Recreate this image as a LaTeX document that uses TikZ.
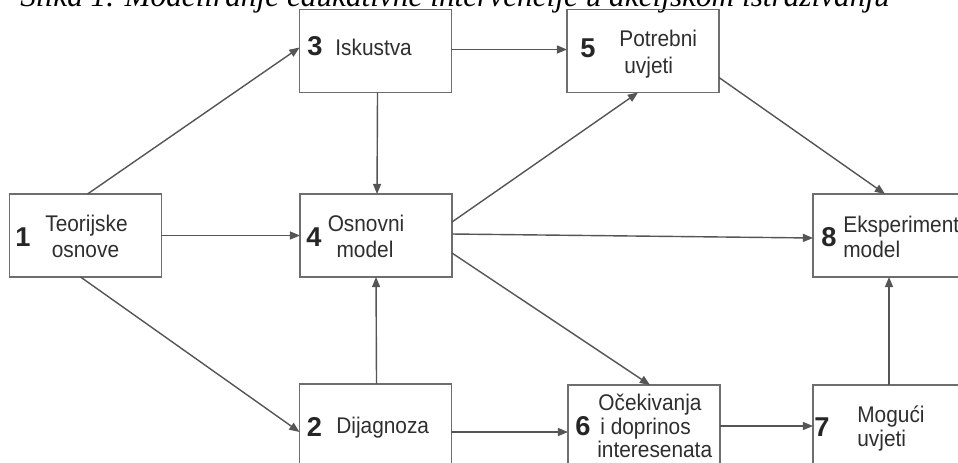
\documentclass[tikz,border=0pt]{standalone}
\usepackage{fontspec}
\setmainfont{Liberation Sans}
\newfontfamily\capfont{Liberation Serif}
\newfontfamily\lblfont[FakeStretch=0.92]{Liberation Sans}
\usetikzlibrary{calc,arrows.meta}
\definecolor{boxgray}{HTML}{6E6E6E}
\definecolor{linegray}{HTML}{555555}
\begin{document}
\begin{tikzpicture}[x=0.02cm,y=-0.02cm,
  stage/.style={draw=boxgray,line width=1.1pt,rectangle,inner sep=0pt,outer sep=0pt,
    minimum width=3.04cm,minimum height=1.66cm},
  num/.style={font=\fontsize{15.5}{17}\selectfont\bfseries,text=black!85,inner sep=0pt},
  lbl/.style={font=\lblfont\fontsize{12.9}{14.7}\selectfont,text=black!82,inner sep=0pt,anchor=base},
  lblw/.style={lbl,anchor=base west},
  link/.style={draw=linegray,line width=0.8pt,
    -{Triangle[length=5.8pt,width=4.6pt]}}]
\useasboundingbox (0,0) rectangle (958,463);
\clip (0,0) rectangle (958,463);
% caption line, only its lower part is on the page
\node[anchor=base west,inner sep=0pt,font=\capfont\itshape\fontsize{17.8}{20}\selectfont] (cap) at (20,7)
  {Slika 1. Modeliranje edukativne intervencije u akcijskom istraživanju};
% stages
\node[stage] (b1) at (85.5,235.5) {};
\node[stage] (b3) at (375.5,51) {};
\node[stage] (b4) at (376,235.5) {};
\node[stage] (b5) at (643,51) {};
\node[stage] (b8) at (889,235.5) {};
\node[stage] (b2) at (375.5,425.5) {};
\node[stage] (b6) at (644,426.5) {};
\node[stage] (b7) at (889,426.5) {};
% numbers
\node[num] (n1) at (23,237) {1};
\node[num] (n3) at (315,46) {3};
\node[num] (n4) at (314,237) {4};
\node[num] (n5) at (588,48.5) {5};
\node[num] (n2) at (314.5,427) {2};
\node[num] (n6) at (583,426) {6};
\node[num] (n7) at (822,427) {7};
\node[num] (n8) at (829,237) {8};
% labels, one node per line
\node[lbl] (t1a) at (86.5,231) {Teorijske};
\node[lbl] (t1b) at (85.5,257) {osnove};
\node[lblw] (t3) at (335,55) {Iskustva};
\node[lbl] (t4a) at (366,231) {Osnovni};
\node[lbl] (t4b) at (365,257) {model};
\node[lblw] (t5a) at (619,47) {Potrebni};
\node[lblw] (t5b) at (624,73) {uvjeti};
\node[lblw] (t2) at (336,433) {Dijagnoza};
\node[lblw] (t6a) at (598,410) {Očekivanja};
\node[lblw] (t6b) at (600,434) {i doprinos};
\node[lblw] (t6c) at (597,457.5) {interesenata};
\node[lblw] (t7a) at (857,422) {Mogući};
\node[lblw] (t7b) at (857,446) {uvjeti};
\node[lblw] (t8a) at (843,232) {Eksperiment};
\node[lblw] (t8b) at (843,257) {model};
% connectors
\draw[link] ($(b1.north west)+(78,0)$) -- ($(b3.north west)+(0,38)$);
\draw[link] ($(b1.south west)+(71,0)$) -- ($(b2.north west)+(0,48)$);
\draw[link] (b1.east) -- (b4.west);
\draw[link] ($(b3.south west)+(78,0)$) -- ($(b4.north west)+(77,0)$);
\draw[link] ($(b3.north east)+(0,40)$) -- ($(b5.north west)+(0,40)$);
\draw[link] ($(b2.north west)+(77,0)$) -- ($(b4.south west)+(76,0)$);
\draw[link] ($(b4.north east)+(0,28)$) -- ($(b5.south west)+(71,0)$);
\draw[link] ($(b4.north east)+(0,40)$) -- ($(b8.north west)+(0,44)$);
\draw[link] ($(b4.north east)+(0,59)$) -- ($(b6.north west)+(82,0)$);
\draw[link] ($(b5.north east)+(0,68)$) -- ($(b8.north west)+(72,0)$);
\draw[link] ($(b2.north east)+(0,48)$) -- ($(b6.north west)+(0,47)$);
\draw[link] ($(b6.north east)+(0,41)$) -- ($(b7.north west)+(0,41)$);
\draw[link] ($(b7.north west)+(76,0)$) -- ($(b8.south west)+(76,0)$);
\end{tikzpicture}
\end{document}
